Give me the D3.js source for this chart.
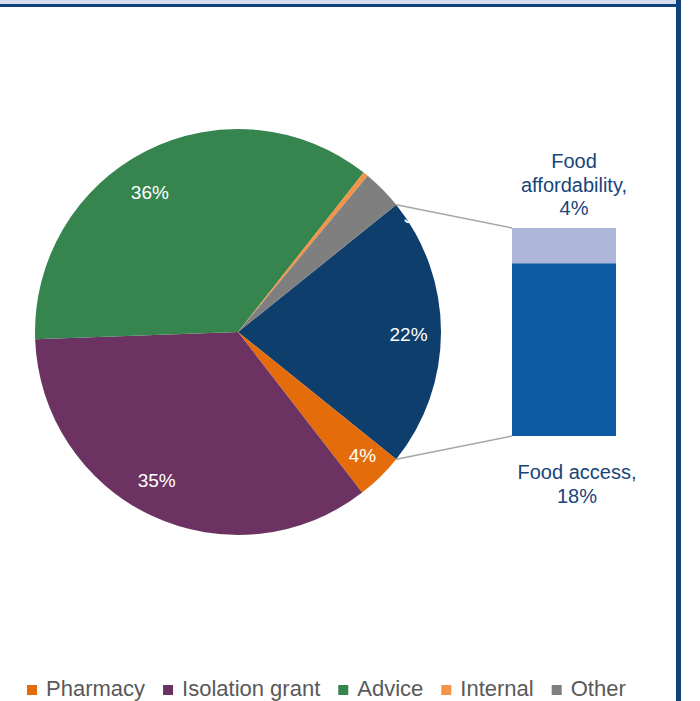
<!DOCTYPE html>
<html>
<head>
<meta charset="utf-8">
<script src="https://cdn.jsdelivr.net/npm/d3@7/dist/d3.min.js"></script>
<style>
  html, body { margin: 0; padding: 0; background: #ffffff; }
  svg { display: block; font-family: "Liberation Sans", Arial, sans-serif; }
</style>
</head>
<body>
<svg id="chart" width="700" height="701"></svg>
<script>
// ---- data ----
const categories = ["Pharmacy", "Isolation grant", "Advice", "Internal", "Other"];
const values = [3.75, 34.9, 36.2, 0.4, 3.2];
const barCategories = ["Food access", "Food affordability"];
const barValues = [17.9, 3.65];
const foodLabel = "Food";

// ---- styles ----
const colors = {
  "Food": "#0e3e6c",
  "Pharmacy": "#e46c0a",
  "Isolation grant": "#6c3362",
  "Advice": "#36854f",
  "Internal": "#f59344",
  "Other": "#7f7f7f"
};
const barColors = { "Food access": "#0b5aa2", "Food affordability": "#aeb7da" };
const navyText = "#17457a";

const svg = d3.select("#chart");

// frame
svg.append("rect").attr("x", 0).attr("y", 0).attr("width", 676).attr("height", 4).attr("fill", "#d6ddf1");
svg.append("rect").attr("x", 0).attr("y", 4).attr("width", 676).attr("height", 3).attr("fill", "#11437a");
svg.append("rect").attr("x", 676).attr("y", 0).attr("width", 5).attr("height", 701).attr("fill", "#11437a");

// ---- pie ----
const cx = 238, cy = 332, R = 203;
const foodTotal = d3.sum(barValues);
const pieData = [{ name: foodLabel, value: foodTotal }].concat(
  categories.map((c, i) => ({ name: c, value: values[i] }))
);
const total = d3.sum(pieData, d => d.value);
const pct = v => Math.round(v / total * 100 + 1e-9) + "%";
const foodAngle = foodTotal / total * 2 * Math.PI;
const pie = d3.pie().sort(null).value(d => d.value)
  .startAngle(Math.PI / 2 - foodAngle / 2)
  .endAngle(Math.PI / 2 - foodAngle / 2 + 2 * Math.PI);
const arcs = pie(pieData);
const arc = d3.arc().innerRadius(0).outerRadius(R);
const labelArc = d3.arc().innerRadius(R * 0.84).outerRadius(R * 0.84);

const g = svg.append("g").attr("transform", `translate(${cx},${cy})`);
g.selectAll("path").data(arcs).join("path")
  .attr("d", arc)
  .attr("fill", d => colors[d.data.name]);

// label nudges (layout)
const nudge = {
  "Food": [0, 2],
  "Pharmacy": [5, 2],
  "Isolation grant": [-9, -6],
  "Advice": [-11, 12],
  "Other": [58, 4]
};
g.selectAll("text.pl").data(arcs.filter(d => nudge[d.data.name])).join("text")
  .attr("class", "pl")
  .attr("x", d => labelArc.centroid(d)[0] + nudge[d.data.name][0])
  .attr("y", d => labelArc.centroid(d)[1] + nudge[d.data.name][1])
  .attr("dy", "0.35em")
  .attr("text-anchor", "middle")
  .attr("fill", "#ffffff")
  .attr("font-size", 19)
  .text(d => pct(d.data.value));

// ---- bar of pie ----
const barX = 512, barW = 104, barTop = 228, barH = 208;
const y = d3.scaleLinear().domain([0, foodTotal]).range([barTop + barH, barTop]);
let acc = 0;
const stacked = barCategories.map((c, i) => {
  const s = { name: c, value: barValues[i], y0: acc, y1: acc + barValues[i] };
  acc += barValues[i];
  return s;
});
svg.selectAll("rect.bar").data(stacked).join("rect")
  .attr("class", "bar")
  .attr("x", barX).attr("width", barW)
  .attr("y", d => y(d.y1))
  .attr("height", d => y(d.y0) - y(d.y1))
  .attr("fill", d => barColors[d.name]);

// connector lines
const foodArc = arcs[0];
const pt = a => [cx + R * Math.sin(a), cy - R * Math.cos(a)];
const pA = pt(foodArc.startAngle), pB = pt(foodArc.endAngle);
svg.append("line").attr("x1", pA[0]).attr("y1", pA[1]).attr("x2", barX).attr("y2", y(foodTotal))
  .attr("stroke", "#a6a6a6").attr("stroke-width", 1.5);
svg.append("line").attr("x1", pB[0]).attr("y1", pB[1]).attr("x2", barX).attr("y2", y(0))
  .attr("stroke", "#a6a6a6").attr("stroke-width", 1.5);

// bar labels
const affIdx = 1, accIdx = 0;
const topLabel = svg.append("text").attr("text-anchor", "middle").attr("fill", navyText).attr("font-size", 20);
["Food", "affordability,", pct(barValues[affIdx])].forEach((t, i) => {
  topLabel.append("tspan").attr("x", 574).attr("y", 168 + i * 24 - (i === 2 ? 1 : 0)).text(t);
});
const botLabel = svg.append("text").attr("text-anchor", "middle").attr("fill", navyText).attr("font-size", 20);
["Food access,", pct(barValues[accIdx])].forEach((t, i) => {
  botLabel.append("tspan").attr("x", 577).attr("y", 479 + i * 24).text(t);
});

// ---- legend ----
const legend = svg.append("g");
let lx = 27;
categories.forEach((c) => {
  legend.append("rect").attr("x", lx).attr("y", 685).attr("width", 10).attr("height", 10).attr("fill", colors[c]);
  const t = legend.append("text").attr("x", lx + 19).attr("y", 696)
    .attr("fill", "#595959").attr("font-size", 22).text(c);
  lx = lx + 19 + t.node().getComputedTextLength() + 18;
});
</script>
</body>
</html>
